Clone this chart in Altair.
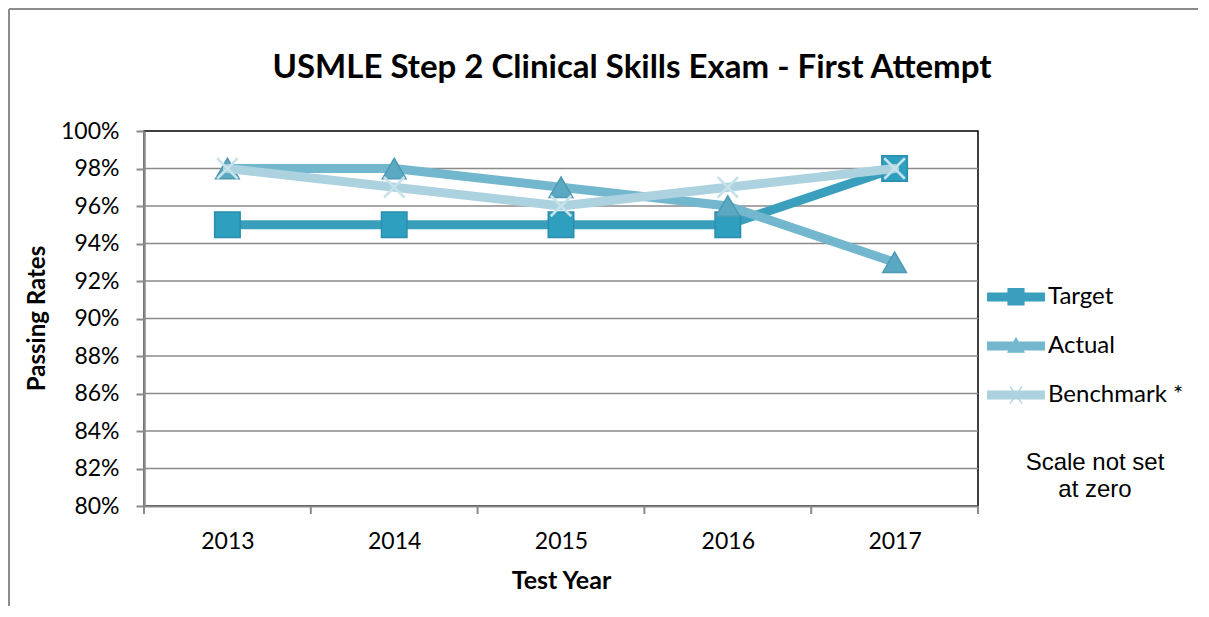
import altair as alt
import pandas as pd

# ---------------- data ----------------
years = [2013, 2014, 2015, 2016, 2017]
target = [0.95, 0.95, 0.95, 0.95, 0.98]
actual = [0.98, 0.98, 0.97, 0.96, 0.93]
benchmark = [0.98, 0.97, 0.96, 0.97, 0.98]
series_names = ["Target", "Actual", "Benchmark *"]
y_ticks = [0.80, 0.82, 0.84, 0.86, 0.88, 0.90, 0.92, 0.94, 0.96, 0.98, 1.00]
note_text = ["Scale not set\nat zero"]
title_text = ["USMLE Step 2 Clinical Skills Exam - First Attempt"]

# ---------------- styles ----------------
line_colors = ["#3a9fbc", "#72b7cd", "#abd2de"]
marker_fill = ["#2f9fc0", "#5aa8c2", "#c6e2ea"]
marker_stroke = ["#2a8eab", "#4d98b2", "#c6e2ea"]
FONT = "Lato"
GRID = "#8a8a8a"

W, H = 834, 375

x_boundaries = [y - 0.5 for y in years] + [years[-1] + 0.5]

x_scale = alt.Scale(domain=[x_boundaries[0], x_boundaries[-1]], nice=False, zero=False)
y_scale = alt.Scale(domain=[y_ticks[0], y_ticks[-1]], nice=False, zero=False)

x_axis = alt.Axis(
    values=years, format="d", ticks=False, tickSize=0, grid=False,
    domainColor=GRID, domainWidth=2,
    labelFont=FONT, labelFontSize=23, labelColor="black", labelPadding=24,
    title="Test Year", titleFont=FONT, titleFontSize=25, titleFontWeight="bold",
    titleColor="black", titleY=74, titleBaseline="middle",
)
y_axis = alt.Axis(
    values=y_ticks, format=".0%", grid=False,
    tickColor=GRID, tickSize=8, tickWidth=2,
    domainColor=GRID, domainWidth=2.5,
    labelFont=FONT, labelFontSize=23, labelColor="black", labelPadding=17,
    title="Passing Rates", titleFont=FONT, titleFontSize=24, titleFontWeight="bold",
    titleColor="black", titleX=-107, titleY=187, titleAngle=-90,
    titleAlign="center", titleBaseline="middle",
)

X = alt.X("year:Q", scale=x_scale, axis=x_axis)
Y = alt.Y("value:Q", scale=y_scale, axis=y_axis)

layers = []

# horizontal gridlines (not at 80% / 100%, which are borders)
grid_df = pd.DataFrame({"value": y_ticks[1:-1]})
layers.append(alt.Chart(grid_df).mark_rule(color=GRID, strokeWidth=1.5).encode(y=Y))

# category boundary ticks below the x axis
tick_df = pd.DataFrame({"year": x_boundaries})
layers.append(
    alt.Chart(tick_df).mark_rule(color=GRID, strokeWidth=2).encode(
        x=X, y=alt.value(H), y2=alt.value(H + 8)
    )
)

# series
series_values = [target, actual, benchmark]
shapes = ["square", "triangle-up", "M-1,-1L1,1M-1,1L1,-1"]
sizes = [650, 560, 420]
for i, name in enumerate(series_names):
    df = pd.DataFrame({"year": years, "value": series_values[i], "series": name})
    base = alt.Chart(df).encode(x=X, y=Y)
    layers.append(
        base.mark_line(color=line_colors[i], strokeWidth=9, strokeCap="round", strokeJoin="round")
    )
    if i < 2:
        layers.append(
            base.mark_point(shape=shapes[i], size=sizes[i], filled=True, opacity=1,
                            fill=marker_fill[i], stroke=marker_stroke[i], strokeWidth=1.5)
        )
    else:
        layers.append(
            base.mark_point(shape=shapes[i], size=sizes[i], filled=False, opacity=1,
                            stroke=marker_fill[i], strokeWidth=2.5)
        )

# legend (line + marker symbols as custom paths)
bar = "M-1.93,-0.3H1.93V0.3H-1.93Z"
legend_paths = [
    bar + "M-0.57,-0.6H0.57V0.57H-0.57Z",
    bar + "M0,-0.62L0.6,0.45H-0.6Z",
    bar + "M-0.45,-0.57L-0.37,-0.6L0.45,0.57L0.37,0.6Z"
        + "M0.37,-0.6L0.45,-0.57L-0.37,0.6L-0.45,0.57Z",
]
legend_df = pd.DataFrame({"series": series_names})
leg = alt.Legend(
    title=None, orient="none", legendX=857, legendY=151, padding=0,
    symbolSize=900, symbolStrokeWidth=0, symbolOpacity=1,
    labelFont=FONT, labelFontSize=24, labelColor="black", labelOffset=17,
    rowPadding=22, labelLimit=300,
)
layers.append(
    alt.Chart(legend_df).mark_point(filled=True, opacity=1).encode(
        color=alt.Color("series:N", scale=alt.Scale(domain=series_names, range=line_colors), legend=leg),
        shape=alt.Shape("series:N", scale=alt.Scale(domain=series_names, range=legend_paths), legend=leg),
    ).transform_filter("false")
)

# note text
note_df = pd.DataFrame({"note": note_text})
layers.append(
    alt.Chart(note_df).mark_text(
        font="Liberation Sans", fontSize=24, lineBreak="\n", lineHeight=27,
        align="center", baseline="top", color="black",
    ).encode(text="note:N", x=alt.value(951), y=alt.value(320))
)

# chart title (as text so it is placed relative to the plot area)
title_df = pd.DataFrame({"title": title_text})
layers.append(
    alt.Chart(title_df).mark_text(
        font=FONT, fontSize=33, fontWeight="bold", align="center",
        baseline="alphabetic", color="black",
    ).encode(text="title:N", x=alt.value(488), y=alt.value(-53))
)

# outer frame (left and top edges)
frame_df = pd.DataFrame({"k": [0]})
layers.append(
    alt.Chart(frame_df).mark_rule(color="#8c8c8c", strokeWidth=2).encode(
        x=alt.value(-135), y=alt.value(-122), y2=alt.value(H + 110)
    )
)
layers.append(
    alt.Chart(frame_df).mark_rule(color="#8c8c8c", strokeWidth=2).encode(
        x=alt.value(-135), x2=alt.value(W + 240), y=alt.value(-122)
    )
)

chart = alt.layer(*layers).properties(
    width=W, height=H,
    background="white",
    autosize=alt.AutoSizeParams(type="none"),
    padding={"left": 136, "top": 123, "right": 220, "bottom": 100},
).configure_view(stroke="black", strokeWidth=1.5)

chart.save("out.html", embed_options={"renderer": "svg", "actions": False})
